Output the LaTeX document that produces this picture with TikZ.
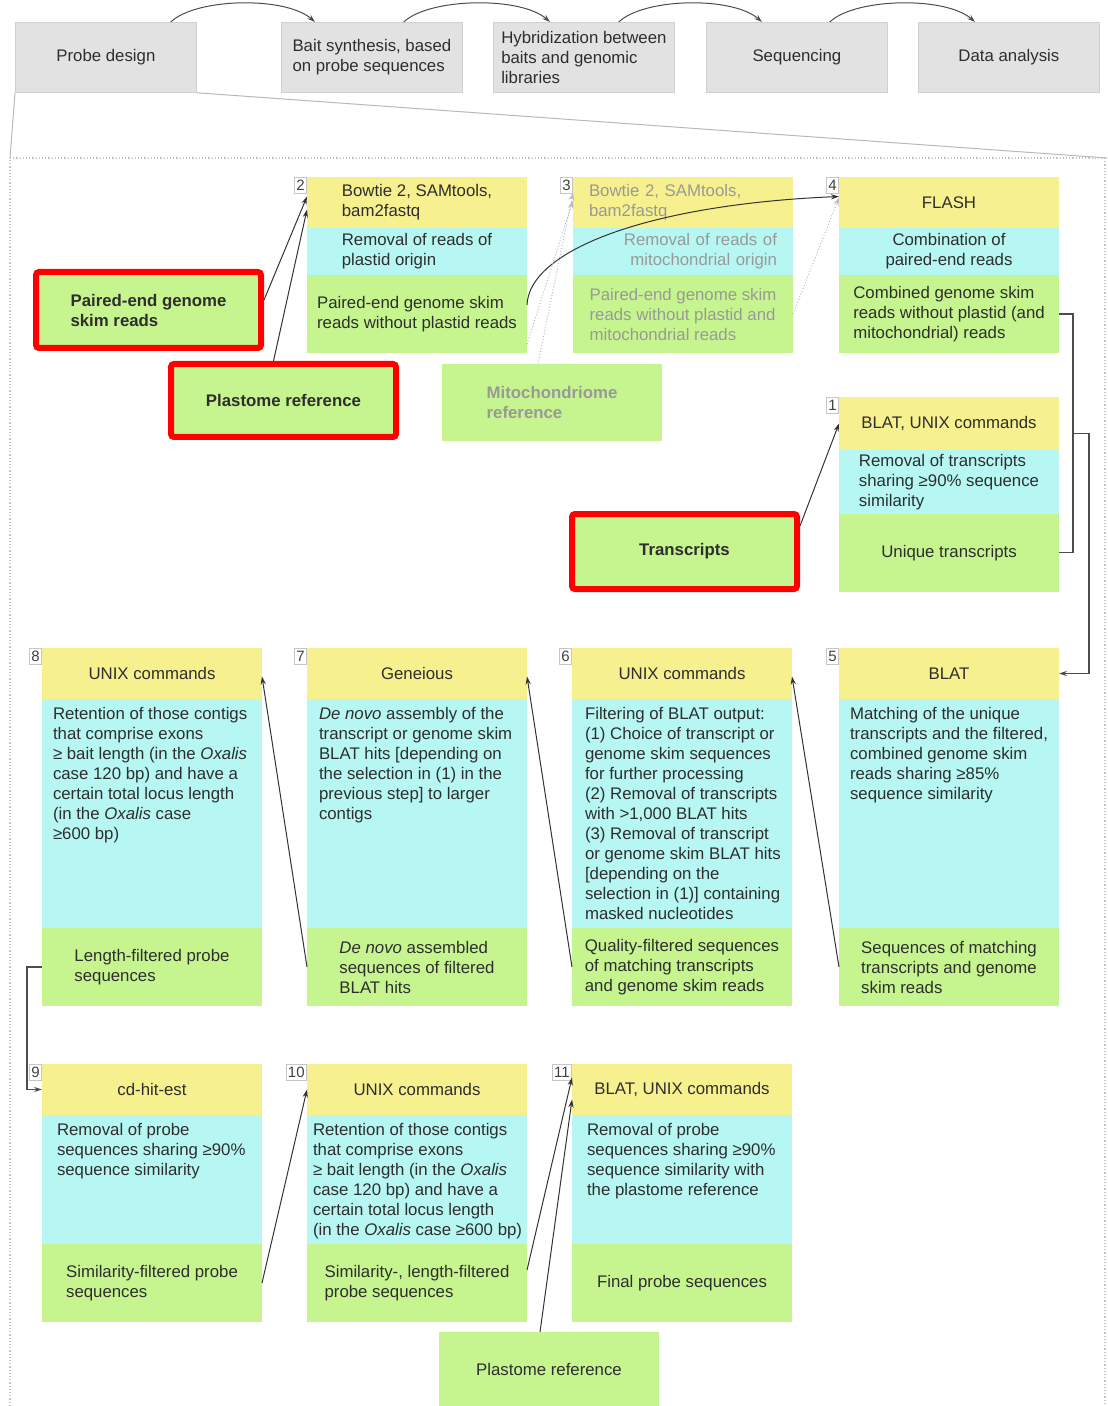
\documentclass[tikz,border=0pt]{standalone}
\usepackage{fontspec}
\setmainfont{Liberation Sans}
\usetikzlibrary{calc, positioning, arrows.meta}

\definecolor{stagegrey}{HTML}{E2E2E2}
\definecolor{stageedge}{HTML}{D0D0D0}
\definecolor{toolyellow}{HTML}{F7F08E}
\definecolor{desccyan}{HTML}{B6F7F3}
\definecolor{outgreen}{HTML}{C6F590}
\definecolor{markred}{HTML}{FF0000}
\definecolor{txtgrey}{HTML}{2E2E2E}

\tikzset{
  every node/.style={font=\fontsize{8.4}{10}\selectfont, text=txtgrey},
  stagebox/.style={fill=stagegrey, draw=stageedge, minimum width=90.5pt, minimum height=35pt,
    align=left, anchor=north west, inner sep=2pt},
  toolpart/.style={fill=toolyellow, minimum width=110pt, minimum height=#1, inner sep=2pt,
    outer sep=0pt, align=center},
  descpart/.style={fill=desccyan, minimum width=110pt, minimum height=#1, inner sep=2pt,
    outer sep=0pt, align=left},
  desctop/.style 2 args={fill=desccyan, minimum width=110pt, inner xsep=1pt, inner ysep=4pt,
    outer sep=0pt,
    execute at begin node={\begin{minipage}[t][#1][t]{108pt}\raggedright\leftskip=\dimexpr#2-1pt\relax},
    execute at end node={\end{minipage}}},
  outpart/.style={fill=outgreen, minimum width=110pt, minimum height=39pt, inner sep=2pt,
    outer sep=0pt, align=left},
  stepnum/.style={draw=gray!45, fill=white, inner sep=1pt, minimum height=8pt, anchor=north east,
    font=\fontsize{7.5}{8}\selectfont, text=black!75},
  inputbox/.style={fill=outgreen, minimum width=110pt, minimum height=38.5pt, align=left,
    font=\fontsize{8.4}{10}\selectfont\bfseries},
  marked/.style={draw=markred, line width=3pt, rounded corners=1.5pt},
  faded/.style={text=black!40},
  flowtip/.style={-{Stealth[length=4pt, width=2.6pt]}},
  flow/.style={flowtip, line width=0.5pt, black!80},
  optflow/.style={flowtip, line width=0.5pt, densely dotted, gray!55},
  elbow/.style={line width=0.6pt, gray!60!black},
  stagearc/.style={flowtip, line width=0.5pt, black!70},
  zoomline/.style={line width=0.5pt, gray!55},
  framedots/.style={line width=0.6pt, densely dotted, gray!45}
}

\begin{document}
\begin{tikzpicture}[x=0.5pt, y=-0.5pt]
  \useasboundingbox (0,0) rectangle (1107,1406);

  % overview of the whole procedure
  \node[stagebox] (pd) at (15,22) {Probe design};
  \node[stagebox] (bait) at (281,22) {Bait synthesis, based\\on probe sequences};
  \node[stagebox] (hyb) at (493,22) {Hybridization between\\baits and genomic\\libraries};
  \node[stagebox] (seqn) at (706,22) {Sequencing};
  \node[stagebox] (anal) at (918,22) {Data analysis};
  \draw[stagearc] ([xshift=-13pt]pd.north east) .. controls +(25,-24) and +(-30,-26) .. ([xshift=17pt]bait.north west);
  \draw[stagearc] ([xshift=-29.5pt]bait.north east) .. controls +(25,-24) and +(-30,-26) .. ([xshift=28.5pt]hyb.north west);
  \draw[stagearc] ([xshift=-28pt]hyb.north east) .. controls +(25,-24) and +(-30,-26) .. ([xshift=28pt]seqn.north west);
  \draw[stagearc] ([xshift=-29pt]seqn.north east) .. controls +(25,-24) and +(-30,-26) .. ([xshift=28.5pt]anal.north west);

  % zoom into probe design
  \coordinate (fNW) at (10,158);
  \coordinate (fNE) at (1107,158);
  \draw[zoomline] (pd.south west) -- (fNW);
  \draw[zoomline] (pd.south east) -- (fNE);
  \draw[framedots] (10,1406) -- (fNW) -- (fNE);
  \draw[framedots] (1105,158) -- (1105,1406);

  % input data
  \node[inputbox, marked, minimum width=112.5pt, minimum height=38pt] (pe) at (148.5,310) {Paired-end genome\\skim reads};
  \node[inputbox, marked, minimum width=112.5pt, minimum height=36.5pt] (plref) at (283.5,400.5) {Plastome reference};
  \node[inputbox, faded] (mito) at (552,402.5) {Mitochondriome\\reference};
  \node[inputbox, marked, minimum width=112.5pt, minimum height=37.5pt] (trans) at (684.5,551.5) {Transcripts};

  % step 2
  \node[toolpart=25.5pt, anchor=north west, align=left] (s2t) at (307,177) {Bowtie 2, SAMtools,\\bam2fastq};
  \node[descpart=23.5pt, below=0pt of s2t] (s2d) {Removal of reads of\\plastid origin};
  \node[outpart, below=0pt of s2d] (s2o) {Paired-end genome skim\\reads without plastid reads};
  \node[stepnum] (n2) at (s2t.north west) {2};

  % step 3 (optional)
  \node[toolpart=25.5pt, anchor=north west, faded, align=left, text width=94pt, inner xsep=8pt] (s3t) at (573,177) {Bowtie 2, SAMtools,\\bam2fastq};
  \node[descpart=23.5pt, below=0pt of s3t, faded, align=right, text width=94pt, inner xsep=8pt] (s3d) {Removal of reads of\\mitochondrial origin};
  \node[outpart, below=0pt of s3d, faded] (s3o) {Paired-end genome skim\\reads without plastid and\\mitochondrial reads};
  \node[stepnum] (n3) at (s3t.north west) {3};

  % step 4
  \node[toolpart=25.5pt, anchor=north west] (s4t) at (839,177) {FLASH};
  \node[descpart=23.5pt, below=0pt of s4t, align=center] (s4d) {Combination of\\paired-end reads};
  \node[outpart, below=0pt of s4d] (s4o) {Combined genome skim\\reads without plastid (and\\mitochondrial) reads};
  \node[stepnum] (n4) at (s4t.north west) {4};

  % step 1
  \node[toolpart=26.5pt, anchor=north west] (s1t) at (839,397) {BLAT, UNIX commands};
  \node[descpart=31pt, below=0pt of s1t] (s1d) {Removal of transcripts\\sharing ≥90\% sequence\\similarity};
  \node[outpart, below=0pt of s1d] (s1o) {Unique transcripts};
  \node[stepnum] (n1) at (s1t.north west) {1};

  % step 5
  \node[toolpart=25.5pt, anchor=north west] (s5t) at (839,648) {BLAT};
  \node[desctop={106.5pt}{5.5pt}, below=0pt of s5t] (s5d) {Matching of the unique\\transcripts and the filtered,\\combined genome skim\\reads sharing ≥85\%\\sequence similarity};
  \node[outpart, below=0pt of s5d] (s5o) {Sequences of matching\\transcripts and genome\\skim reads};
  \node[stepnum] (n5) at (s5t.north west) {5};

  % step 6
  \node[toolpart=25.5pt, anchor=north west] (s6t) at (572,648) {UNIX commands};
  \node[desctop={106.5pt}{6.5pt}, below=0pt of s6t] (s6d) {Filtering of BLAT output:\\(1) Choice of transcript or\\genome skim sequences\\for further processing\\(2) Removal of transcripts\\with >1,000 BLAT hits\\(3) Removal of transcript\\or genome skim BLAT hits\\{}[depending on the\\selection in (1)] containing\\masked nucleotides};
  \node[outpart, below=0pt of s6d] (s6o) {Quality-filtered sequences\\of matching transcripts\\and genome skim reads};
  \node[stepnum] (n6) at (s6t.north west) {6};

  % step 7
  \node[toolpart=25.5pt, anchor=north west] (s7t) at (307,648) {Geneious};
  \node[desctop={106.5pt}{6pt}, below=0pt of s7t] (s7d) {\textit{De novo} assembly of the\\transcript or genome skim\\BLAT hits [depending on\\the selection in (1) in the\\previous step] to larger\\contigs};
  \node[outpart, below=0pt of s7d] (s7o) {\textit{De novo} assembled\\sequences of filtered\\BLAT hits};
  \node[stepnum] (n7) at (s7t.north west) {7};

  % step 8
  \node[toolpart=25.5pt, anchor=north west] (s8t) at (42,648) {UNIX commands};
  \node[desctop={106.5pt}{5.5pt}, below=0pt of s8t] (s8d) {Retention of those contigs\\that comprise exons\\≥ bait length (in the \textit{Oxalis}\\case 120 bp) and have a\\certain total locus length\\(in the \textit{Oxalis} case\\≥600 bp)};
  \node[outpart, below=0pt of s8d] (s8o) {Length-filtered probe\\sequences};
  \node[stepnum] (n8) at (s8t.north west) {8};

  % step 9
  \node[toolpart=25.5pt, anchor=north west] (s9t) at (42,1064) {cd-hit-est};
  \node[desctop={56.5pt}{7.5pt}, below=0pt of s9t] (s9d) {Removal of probe\\sequences sharing ≥90\%\\sequence similarity};
  \node[outpart, below=0pt of s9d] (s9o) {Similarity-filtered probe\\sequences};
  \node[stepnum] (n9) at (s9t.north west) {9};

  % step 10
  \node[toolpart=25.5pt, anchor=north west] (s10t) at (307,1064) {UNIX commands};
  \node[desctop={56.5pt}{3pt}, below=0pt of s10t] (s10d) {Retention of those contigs\\that comprise exons\\≥ bait length (in the \textit{Oxalis}\\case 120 bp) and have a\\certain total locus length\\(in the \textit{Oxalis} case ≥600 bp)};
  \node[outpart, below=0pt of s10d] (s10o) {Similarity-, length-filtered\\probe sequences};
  \node[stepnum] (n10) at (s10t.north west) {10};

  % step 11
  \node[toolpart=25.5pt, anchor=north west] (s11t) at (572,1064) {BLAT, UNIX commands};
  \node[desctop={56.5pt}{7.5pt}, below=0pt of s11t] (s11d) {Removal of probe\\sequences sharing ≥90\%\\sequence similarity with\\the plastome reference};
  \node[outpart, below=0pt of s11d] (s11o) {Final probe sequences};
  \node[stepnum] (n11) at (s11t.north west) {11};

  \node[outpart, minimum height=37pt] (plref2) at (549,1369) {Plastome reference};

  % connections
  \draw[flow] ([yshift=5pt]pe.east) -- ([yshift=3pt]s2t.west);
  \draw[flow] ([xshift=-5pt]plref.north) -- ([yshift=-3.5pt]s2t.west);
  \draw[flow] ([yshift=4.5pt]s2o.east) .. controls +(2,-55) and +(-190,8) .. ([yshift=3pt]s4t.west);
  \draw[optflow] ([yshift=-15pt]s2o.east) -- ([yshift=1pt]s3t.west);
  \draw[optflow] ([xshift=-7pt]mito.north) -- ([yshift=5pt]s3t.west);
  \draw[optflow] (s3o.east) -- ([yshift=2.5pt]s4t.west);
  \draw[flow] ([yshift=-7.5pt]trans.north east) -- (s1t.west);
  \draw[elbow] (s4o.east) -- ++(14,0) coordinate (mtop) |- (s1o.east);
  \coordinate (merge) at ($(mtop)!0.5!(mtop |- s1o.east)$);
  \draw[elbow, flowtip] (merge) -- ++(16,0) |- (s5t.east);
  \draw[flow] (s5o.west) -- ([yshift=-1.5pt]s6t.east);
  \draw[flow] (s6o.west) -- ([yshift=-1.5pt]s7t.east);
  \draw[flow] (s7o.west) -- ([yshift=-1.5pt]s8t.east);
  \draw[elbow, flowtip] (s8o.west) -- ++(-15,0) |- (s9t.west);
  \draw[flow] (s9o.east) -- (s10t.west);
  \draw[flow] ([yshift=6.5pt]s10o.east) -- ([yshift=6pt]s11t.west);
  \draw[flow] ([xshift=-4.5pt]plref2.north) -- ([yshift=-5pt]s11t.west);
\end{tikzpicture}
\end{document}
